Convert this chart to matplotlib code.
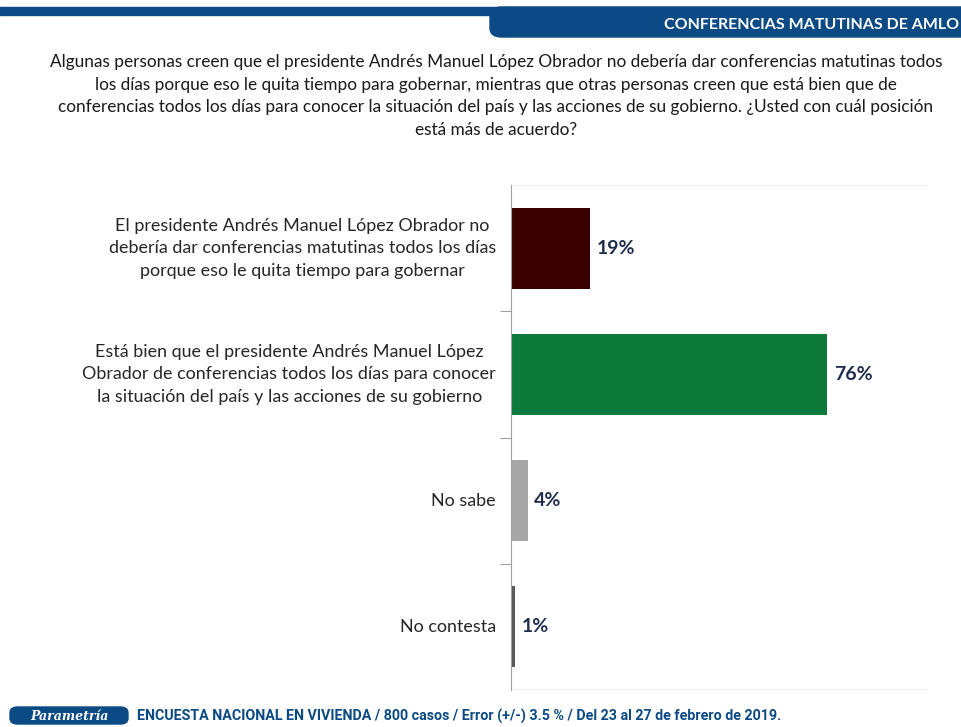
import matplotlib.pyplot as plt
from matplotlib.patches import FancyBboxPatch, Rectangle

categories = [
    "El presidente Andrés Manuel López Obrador no\ndebería dar conferencias matutinas todos los días\nporque eso le quita tiempo para gobernar",
    "Está bien que el presidente Andrés Manuel López\nObrador de conferencias todos los días para conocer\nla situación del país y las acciones de su gobierno",
    "No sabe",
    "No contesta",
]
values = [19, 76, 4, 1]
colors = ["#3b0000", "#0b7a3b", "#a6a6a6", "#595959"]

question = ("Algunas personas creen que el presidente Andrés Manuel López Obrador no debería dar conferencias matutinas todos\n"
            "los días porque eso le quita tiempo para gobernar, mientras que otras personas creen que está bien que de\n"
            "conferencias todos los días para conocer la situación del país y las acciones de su gobierno. ¿Usted con cuál posición\n"
            "está más de acuerdo?")
title = "CONFERENCIAS MATUTINAS DE AMLO"
footer = "ENCUESTA NACIONAL EN VIVIENDA / 800 casos / Error (+/-) 3.5 % / Del 23 al 27 de febrero de 2019."

plt.rcParams['font.family'] = ['Lato', 'DejaVu Sans']
navy = "#0b4a85"

fig = plt.figure(figsize=(9.62, 7.27), dpi=100)
W, H = 962, 727

def fx(x):
    return x / W

def fy(y):
    return 1 - y / H

# header band
fig.patches.append(Rectangle((0, fy(15)), 1, 8 / H, transform=fig.transFigure,
                             color=navy, zorder=1))
fig.patches.append(FancyBboxPatch((fx(490), fy(37)), fx(520), 30 / H,
                                  boxstyle="round,pad=0,rounding_size=0.012",
                                  transform=fig.transFigure, color=navy, zorder=1))
fig.text(fx(959), fy(25), title, color="white", fontsize=11.5, fontweight="bold",
         ha="right", va="center")

# question
fig.text(fx(496), fy(96), question, fontsize=12.4, color="#1a1a1a",
         ha="center", va="center", multialignment="center", linespacing=1.5)

ax = fig.add_axes([fx(511), fy(690), fx(927) - fx(511), (690 - 185) / H])
y = range(len(values))
ax.barh(list(y), values, height=0.64, color=colors, edgecolor="none")
ax.set_xlim(0, 100)
ax.set_ylim(3.5, -0.5)
for i, v in enumerate(values):
    ax.text(v + 1.6, i, f"{v}%", fontsize=14, fontweight="bold", color="#1f2d4d",
            va="center", ha="left")

for s in ["top", "right", "bottom"]:
    ax.spines[s].set_visible(False)
ax.spines["left"].set_color("#a0a0a0")
ax.axhline(-0.5, color="#e6e9ee", lw=1.2)
ax.axhline(3.5, color="#e6e9ee", lw=1.2)
ax.set_xticks([])
ax.set_yticks([0.5, 1.5, 2.5])
ax.set_yticklabels([])
ax.tick_params(axis="y", length=8, color="#a0a0a0", direction="out")

for i, c in enumerate(categories):
    ax.text(-3.6, i, c, fontsize=12.9, color="#262626", ha="right", va="center",
            multialignment="center", linespacing=1.5)

# footer
fig.patches.append(FancyBboxPatch((fx(10), fy(724)), fx(118), 17 / H,
                                  boxstyle="round,pad=0,rounding_size=0.008",
                                  transform=fig.transFigure, color=navy, zorder=1))
fig.text(fx(69), fy(716), "Parametría", color="white", fontsize=9, fontweight="bold",
         style="italic", ha="center", va="center", family=["DejaVu Serif"])
fig.text(fx(137), fy(716), footer, color=navy, fontsize=10.3, fontweight="bold",
         ha="left", va="center", family=["Roboto", "DejaVu Sans"])

fig.savefig("out.png", dpi=100)
